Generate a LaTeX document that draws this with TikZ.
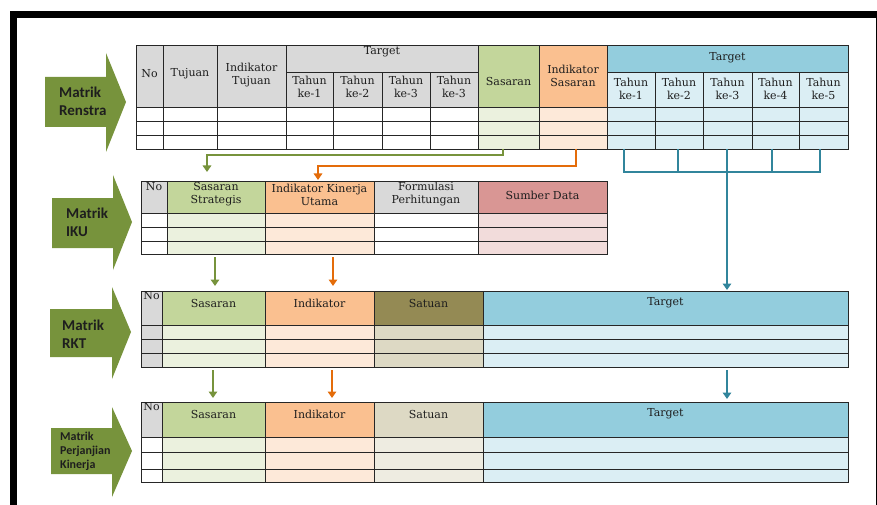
\documentclass[tikz,border=0pt]{standalone}
\usepackage{fontspec}
\setmainfont{DejaVu Serif}
\newfontfamily\arrfont{Carlito}
\usetikzlibrary{arrows.meta}
\definecolor{hgray}{HTML}{D9D9D9}
\definecolor{hgreen}{HTML}{C3D69B}
\definecolor{lgreen}{HTML}{EBF1DE}
\definecolor{horange}{HTML}{FAC090}
\definecolor{lorange}{HTML}{FDE9D9}
\definecolor{hblue}{HTML}{93CDDD}
\definecolor{lblue}{HTML}{DBEEF4}
\definecolor{hred}{HTML}{D99694}
\definecolor{lred}{HTML}{F2DCDB}
\definecolor{hkhaki}{HTML}{948A54}
\definecolor{mkhaki}{HTML}{DDD9C4}
\definecolor{lkhaki}{HTML}{EEECE1}
\definecolor{agreen}{HTML}{77933C}
\definecolor{cgreen}{HTML}{77933C}
\definecolor{corange}{HTML}{E46C0A}
\definecolor{cblue}{HTML}{31859C}
\definecolor{txt}{HTML}{1E1E1E}
\newcommand\cell[6]{\node[cellbox,fill=#6,minimum width={#4-#2},minimum height={#5-#3},anchor=north west] (#1) at (#2,#3) {};}
\tikzset{
  cellbox/.style={draw=black!85,line width=0.9pt,inner sep=0pt,outer sep=0pt},
  tx/.style={font=\fontsize{11}{13}\selectfont,text=txt,align=center,inner sep=0pt},
  arrtxt/.style={font=\arrfont\bfseries\fontsize{15}{18}\selectfont,text=txt,align=left,inner sep=0pt,anchor=west},
  cline/.style={draw=#1,line width=2.3pt},
  carrow/.style={draw=#1,line width=2.3pt,-{Triangle[length=6.5pt,width=8.5pt]}},
  blockarrow/.style={fill=agreen}
}
\begin{document}
\begin{tikzpicture}[x=1pt,y=-1pt]
\useasboundingbox (0,0) rectangle (877,505);
% frame
\fill[black] (10,11) rectangle (17,505);
\fill[black] (10,11) rectangle (877,18);
\draw[black,line width=1pt] (876,18) -- (876,505);

% block arrows
\fill[blockarrow] (45,77) -- (106,77) -- (106,53) -- (126,102) -- (106,152) -- (106,127) -- (45,127) -- cycle;
\node[arrtxt] (mRenstra) at (59,101) {Matrik\\Renstra};
\fill[blockarrow] (52,198) -- (113,198) -- (113,175) -- (132,222) -- (113,270) -- (113,248) -- (52,248) -- cycle;
\node[arrtxt] (mIKU) at (66,222) {Matrik\\IKU};
\fill[blockarrow] (50,309) -- (112,309) -- (112,287) -- (131,332) -- (112,379) -- (112,357) -- (50,357) -- cycle;
\node[arrtxt] (mRKT) at (62,334) {Matrik\\RKT};
\fill[blockarrow] (51,428) -- (112,428) -- (112,407) -- (132,451) -- (112,497) -- (112,474) -- (51,474) -- cycle;
\node[arrtxt,font=\arrfont\bfseries\fontsize{12}{14}\selectfont] (mPK) at (60,451) {Matrik\\Perjanjian\\Kinerja};

% ---------- Table 1: Renstra ----------
\cell{Hno}{136}{45}{163}{107}{hgray}
\cell{Htuj}{163}{45}{217}{107}{hgray}
\cell{Hitj}{217}{45}{286}{107}{hgray}
\cell{Htga}{286}{45}{478}{72}{hgray}
\cell{Hta}{286}{72}{333}{107}{hgray}
\cell{Htb}{333}{72}{382}{107}{hgray}
\cell{Htc}{382}{72}{430}{107}{hgray}
\cell{Htd}{430}{72}{478}{107}{hgray}
\cell{Hsas}{478}{45}{539}{107}{hgreen}
\cell{Hisa}{539}{45}{607}{107}{horange}
\cell{Htgb}{607}{45}{848}{72}{hblue}
\cell{Hua}{607}{72}{655}{107}{lblue}
\cell{Hub}{655}{72}{703}{107}{lblue}
\cell{Huc}{703}{72}{752}{107}{lblue}
\cell{Hud}{752}{72}{799}{107}{lblue}
\cell{Hue}{799}{72}{848}{107}{lblue}
\foreach \nm/\xa/\xb/\cc in {no/136/163/white, tuj/163/217/white, itj/217/286/white, ta/286/333/white, tb/333/382/white, tc/382/430/white, td/430/478/white, sas/478/539/lgreen, isa/539/607/lorange, ua/607/655/lblue, ub/655/703/lblue, uc/703/752/lblue, ud/752/799/lblue, ue/799/848/lblue}{
  \foreach \r/\ya/\yb in {1/107/121,2/121/135,3/135/149}{\cell{A\nm\r}{\xa}{\ya}{\xb}{\yb}{\cc}}}
\node[tx] (tNo) at (149.5,74) {No};
\node[tx] (tTuj) at (190,74) {Tujuan};
\node[tx] (tItj) at (251.5,75) {Indikator\\Tujuan};
\node[tx] (tTga) at (382,52) {Target};
\node[tx] (tTha) at (309.5,87) {Tahun\\ke-1};
\node[tx] (tThb) at (357.5,87) {Tahun\\ke-2};
\node[tx] (tThc) at (406,87) {Tahun\\ke-3};
\node[tx] (tThd) at (454,87) {Tahun\\ke-3};
\node[tx] (tSas) at (508.5,81) {Sasaran};
\node[tx] (tIsa) at (573,76) {Indikator\\Sasaran};
\node[tx] (tTgb) at (727.5,57.5) {Target};
\node[tx] (tUa) at (631,88.5) {Tahun\\ke-1};
\node[tx] (tUb) at (679,88.5) {Tahun\\ke-2};
\node[tx] (tUc) at (727.5,88.5) {Tahun\\ke-3};
\node[tx] (tUd) at (775.5,88.5) {Tahun\\ke-4};
\node[tx] (tUe) at (823.5,88.5) {Tahun\\ke-5};

% ---------- Table 2: IKU ----------
\foreach \nm/\xa/\xb/\hc/\cc in {no/141/167/hgray/white, sas/167/265/hgreen/lgreen, ikk/265/374/horange/lorange, frm/374/478/hgray/white, sd/478/607/hred/lred}{
  \cell{B\nm}{\xa}{181}{\xb}{213}{\hc}
  \foreach \r/\ya/\yb in {1/213/227,2/227/241,3/241/254}{\cell{B\nm\r}{\xa}{\ya}{\xb}{\yb}{\cc}}}
\node[tx] (iNo) at (154,187) {No};
\node[tx] (iSas) at (216,194) {Sasaran\\Strategis};
\node[tx] (iIkk) at (319.5,194.5) {Indikator Kinerja\\Utama};
\node[tx] (iFrm) at (426,194.5) {Formulasi\\Perhitungan};
\node[tx] (iSd) at (542.5,195) {Sumber Data};

% ---------- Table 3: RKT ----------
\foreach \nm/\xa/\xb/\hc/\cc in {no/141/162/hgray/hgray, sas/162/265/hgreen/lgreen, ind/265/374/horange/lorange, sat/374/483/hkhaki/mkhaki, tg/483/848/hblue/lblue}{
  \cell{C\nm}{\xa}{291}{\xb}{325}{\hc}
  \foreach \r/\ya/\yb in {1/325/339,2/339/353,3/353/367}{\cell{C\nm\r}{\xa}{\ya}{\xb}{\yb}{\cc}}}
\node[tx] (rNo) at (151.5,296) {No};
\node[tx] (rSas) at (213.5,303) {Sasaran};
\node[tx] (rInd) at (319.5,303) {Indikator};
\node[tx] (rSat) at (428.5,303) {Satuan};
\node[tx] (rTg) at (665.5,303) {Target};

% ---------- Table 4: Perjanjian Kinerja ----------
\foreach \nm/\xa/\xb/\hc/\cc in {no/141/162/hgray/white, sas/162/265/hgreen/lgreen, ind/265/374/horange/lorange, sat/374/483/mkhaki/lkhaki, tg/483/848/hblue/lblue}{
  \cell{D\nm}{\xa}{402}{\xb}{437}{\hc}
  \foreach \r/\ya/\yb in {1/437/452,2/452/469,3/469/482}{\cell{D\nm\r}{\xa}{\ya}{\xb}{\yb}{\cc}}}
\node[tx] (pNo) at (151.5,407) {No};
\node[tx] (pSas) at (213.5,414) {Sasaran};
\node[tx] (pInd) at (319.5,414) {Indikator};
\node[tx] (pSat) at (428.5,414) {Satuan};
\node[tx] (pTg) at (665.5,414) {Target};

% ---------- connectors ----------
\draw[carrow=cgreen] ([xshift=-5.5pt]Asas3.south) -- ++(0,6) -| ([xshift=-9pt,yshift=9pt]Bsas.north);
\draw[carrow=corange] ([xshift=3pt]Aisa3.south) -- ++(0,17) -| ([xshift=-1.5pt,yshift=1pt]Bikk.north);
\draw[cline=cblue] ([xshift=-7pt]Aua3.south) -- ++(0,23) -| ([xshift=-3.5pt]Aue3.south);
\foreach \i/\s in {b/-1,c/-0.5,d/-3.5}{\draw[cline=cblue] ([xshift=\s pt]Au\i3.south) -- ++(0,23);}
\coordinate (bjoin) at ([xshift=-0.5pt,yshift=-23pt]Auc3.south);
\draw[carrow=cblue] (bjoin) -- ([yshift=1pt]bjoin |- Ctg.north);

\draw[carrow=cgreen] ([xshift=-1pt,yshift=-3pt]Bsas3.south) -- ([xshift=-1pt,yshift=5pt]Bsas3.south |- Csas.north);
\draw[carrow=corange] ([xshift=13.5pt,yshift=-3pt]Bikk3.south) -- ([xshift=13.5pt,yshift=5pt]Bikk3.south |- Cind.north);

\draw[carrow=cgreen] ([xshift=-0.5pt,yshift=-3pt]Csas3.south) -- ([xshift=-0.5pt,yshift=4pt]Csas3.south |- Dsas.north);
\draw[carrow=corange] ([xshift=12.5pt,yshift=-3pt]Cind3.south) -- ([xshift=12.5pt,yshift=4pt]Cind3.south |- Dind.north);
\draw[carrow=cblue] ([xshift=61.5pt,yshift=-3pt]Ctg3.south) -- ([xshift=61.5pt,yshift=3pt]Ctg3.south |- Dtg.north);
\end{tikzpicture}
\end{document}
